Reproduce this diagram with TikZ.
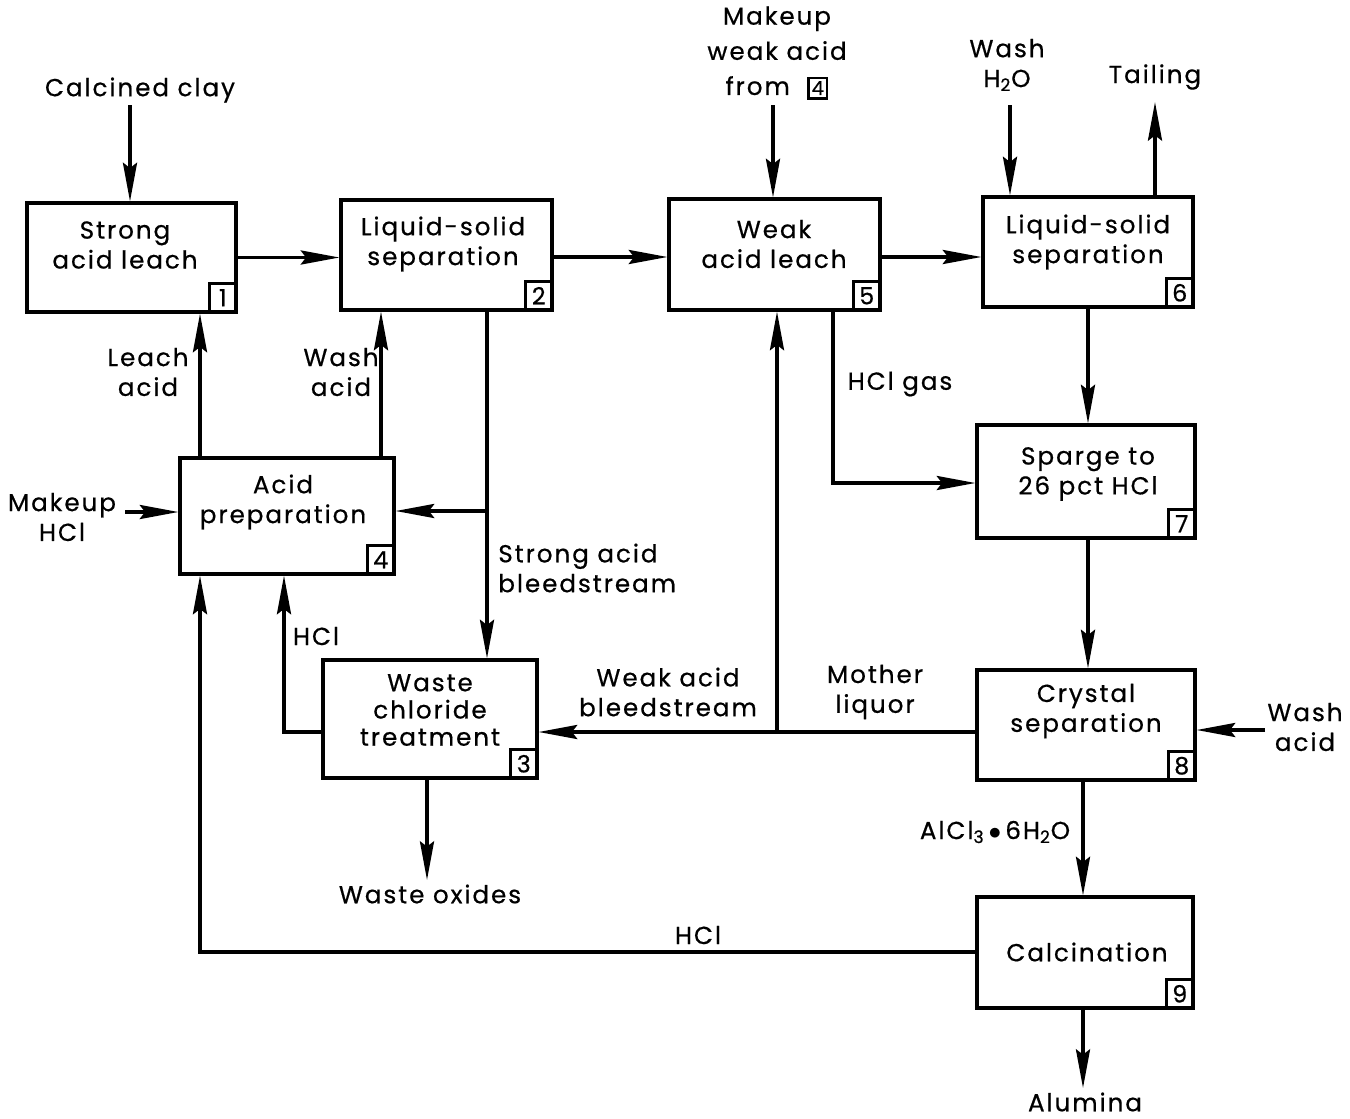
\documentclass[tikz,border=0pt]{standalone}
\usepackage{fontspec}
\setmainfont{Poppins}[LetterSpace=8,FakeBold=0.6]
\usetikzlibrary{arrows.meta}
\begin{document}
\begin{tikzpicture}[x=0.02cm,y=-0.02cm,
  box/.style={draw, line width=1.8pt, inner sep=0pt},
  badge/.style={draw, line width=1.5pt, minimum width=0.54cm, minimum height=0.58cm, inner sep=0pt, anchor=south east, font=\fontsize{13.5}{13.5}\selectfont},
  txt/.style={align=center, inner sep=0pt, font=\fontsize{14}{17}\selectfont},
  ltxt/.style={align=left, inner sep=0pt, font=\fontsize{14}{17}\selectfont},
  arr/.style={line width=2pt, -{Stealth[length=22pt,width=8pt,inset=3pt]}},
  ln/.style={line width=2pt}]
\useasboundingbox (0,0) rectangle (1350,1119);

% boxes
\node[box, minimum width=4.18cm, minimum height=2.18cm] (b1) at (131.5,257.5) {};
\node[txt] (t1) at (125,245) {Strong\\acid leach};
\node[badge] (n1) at (b1.south east) {1};

\node[box, minimum width=4.22cm, minimum height=2.2cm] (b2) at (446.5,255) {};
\node[txt] (t2) at (443,244) {Liquid-solid\\separation};
\node[badge] (n2) at (b2.south east) {2};

\node[box, minimum width=4.22cm, minimum height=2.22cm] (b5) at (774.5,254.5) {};
\node[txt] (t5) at (774,244) {Weak\\acid leach};
\node[badge] (n5) at (b5.south east) {5};

\node[box, minimum width=4.2cm, minimum height=2.2cm] (b6) at (1088,252) {};
\node[txt] (t6) at (1088,242) {Liquid-solid\\separation};
\node[badge] (n6) at (b6.south east) {6};

\node[box, minimum width=4.36cm, minimum height=2.26cm] (b7) at (1086,481.5) {};
\node[txt] (t7) at (1088,474) {Sparge to\\26 pct HCl};
\node[badge] (n7) at (b7.south east) {7};

\node[box, minimum width=4.36cm, minimum height=2.2cm] (b8) at (1086,725) {};
\node[txt] (t8) at (1086,711) {Crystal\\separation};
\node[badge] (n8) at (b8.south east) {8};

\node[box, minimum width=4.32cm, minimum height=2.22cm] (b9) at (1085,952.5) {};
\node[txt] (t9) at (1087,952) {Calcination};
\node[badge] (n9) at (b9.south east) {9};

\node[box, minimum width=4.28cm, minimum height=2.32cm] (b4) at (287,516) {};
\node[txt] (t4) at (283,502) {Acid\\preparation};
\node[badge] (n4) at (b4.south east) {4};

\node[box, minimum width=4.28cm, minimum height=2.36cm] (b3) at (430,719) {};
\node[txt, font=\fontsize{14}{15.5}\selectfont] (t3) at (430,710) {Waste\\chloride\\treatment};
\node[badge] (n3) at (b3.south east) {3};

% external labels
\node[txt] (lcc) at (140,90) {Calcined clay};
\node[txt, font=\fontsize{14}{20}\selectfont] (lmw) at (777,53) {Makeup\\weak acid\\from\hspace{0.7em}{\setlength{\fboxsep}{1.2pt}\setlength{\fboxrule}{1.4pt}\fbox{\fontsize{11}{11}\selectfont 4}}};
\node[txt] (lwh) at (1007,65) {Wash\\H\textsubscript{2}O};
\node[txt] (ltl) at (1155,77) {Tailing};
\node[txt] (lla) at (148,372) {Leach\\acid};
\node[txt] (lwa) at (341,372) {Wash\\acid};
\node[txt] (lmh) at (62,517) {Makeup\\HCl};
\node[ltxt, anchor=west] (lsb) at (498,568) {Strong acid\\bleedstream};
\node[txt] (lh1) at (316,636) {HCl};
\node[txt] (lhg) at (900,384) {HCl gas};
\node[txt] (lwb) at (668,692) {Weak acid\\bleedstream};
\node[txt] (lml) at (875,692) {Mother\\liquor};
\node[txt] (lwa2) at (1305,727) {Wash\\acid};
\node[txt] (lal) at (995,832) {AlCl\textsubscript{3}\,$\bullet$\,6H\textsubscript{2}O};
\node[txt] (lh2) at (698,935) {HCl};
\node[txt] (lwo) at (430,894) {Waste oxides};
\node[txt] (lalu) at (1085,1102) {Alumina};

% coordinates for free ends and junctions
\coordinate (ccs) at (130,105);
\coordinate (mws) at (773,105);
\coordinate (whs) at (1010,105);
\coordinate (tle) at (1155,102);
\coordinate (mhs) at (125,512);
\coordinate (was) at (1265,730);
\coordinate (woe) at (427,880);
\coordinate (ale) at (1083,1088);
\coordinate (jsb) at (487,511);
\coordinate (jml) at (777,732);

% top row
\draw[arr] (ccs) -- (ccs |- b1.north);
\draw[arr] (b1.east) -- (b1.east -| b2.west);
\draw[arr] ([yshift=-0.04cm]b2.east) -- ([yshift=-0.04cm]b2.east -| b5.west);
\draw[arr] ([yshift=-0.05cm]b5.east) -- ([yshift=-0.05cm]b5.east -| b6.west);
\draw[arr] (mws) -- (mws |- b5.north);
\draw[arr] (whs) -- (whs |- b6.north);
\draw[arr] (tle |- b6.north) -- (tle);

% right column
\draw[arr] (b6.south -| 1088,0) -- (b7.north -| 1088,0);
\draw[arr] (b7.south -| 1088,0) -- (b8.north -| 1088,0);
\draw[arr] (b8.south -| 1083,0) -- (b9.north -| 1083,0);
\draw[arr] (b9.south -| ale) -- (ale);
\draw[arr] (was) -- (was -| b8.east);

% HCl gas
\draw[arr] (b5.south -| 833,0) -- (833,483) -- (b7.west |- 833,483);

% mother liquor / weak acid bleedstream
\draw[arr] (b8.west |- jml) -- (jml -| b3.east);
\draw[arr] (jml) -- (jml |- b5.south);

% strong acid bleedstream
\draw[arr] (b2.south -| jsb) -- (jsb |- b3.north);
\draw[arr] (jsb) -- (jsb -| b4.east);

% acid preparation outputs
\draw[arr] (b4.north -| 200,0) -- (b1.south -| 200,0);
\draw[arr] (b4.north -| 381,0) -- (b2.south -| 381,0);
\draw[arr] (mhs) -- (mhs -| b4.west);

% HCl returns
\draw[arr] (b3.west |- 0,732) -- (284,732) -- (b4.south -| 284,0);
\draw[arr] (b9.west |- 0,952) -- (200,952) -- (b4.south -| 200,0);

% waste oxides
\draw[arr] (b3.south -| woe) -- (woe);
\end{tikzpicture}
\end{document}
